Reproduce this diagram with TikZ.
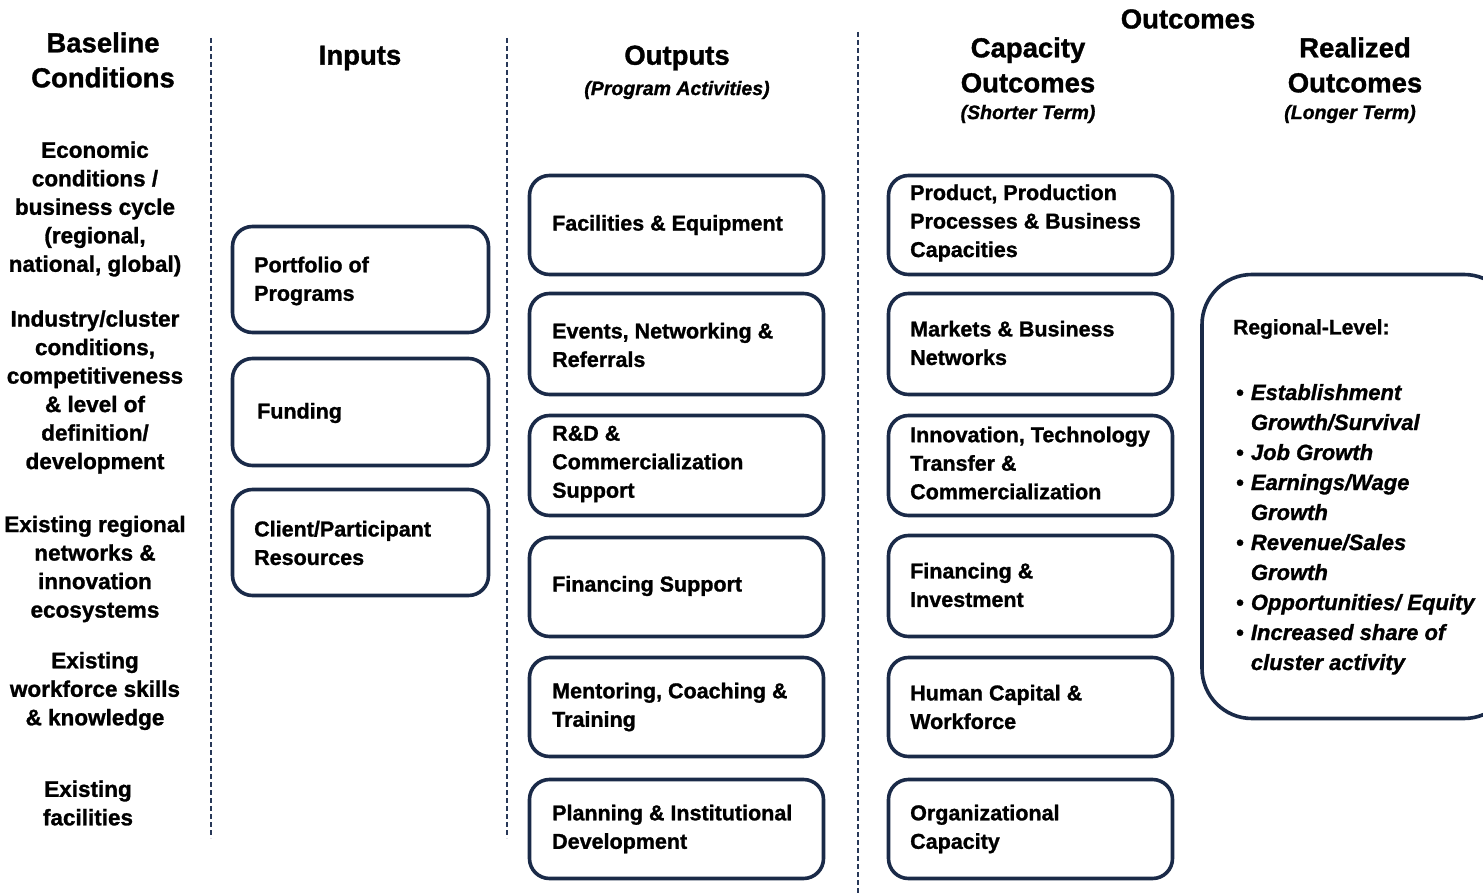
\documentclass[tikz,border=0pt]{standalone}
\usepackage{fontspec}
\setmainfont{Liberation Sans}[BoldFeatures={FakeBold=1.2},BoldItalicFeatures={FakeBold=1.2}]
\definecolor{navy}{RGB}{26,42,72}
\definecolor{dashnavy}{RGB}{40,56,88}
\tikzset{
  hdr/.style={font=\fontsize{27.5}{35}\selectfont\bfseries, align=center, inner sep=0},
  subhdr/.style={font=\fontsize{19.5}{24}\selectfont\bfseries\itshape, align=center, inner sep=0},
  basetxt/.style={font=\fontsize{22.5}{28.5}\selectfont\bfseries, align=center, inner sep=0},
  lmbox/.style={draw=navy, line width=3.6pt, rounded corners=20pt, inner sep=0, outer sep=0},
  btxt/.style={font=\fontsize{21.5}{28.5}\selectfont\bfseries, align=left, anchor=west, inner sep=0},
  sepline/.style={draw=dashnavy, line width=2.2pt, dash pattern=on 5pt off 3pt},
}
\begin{document}
\begin{tikzpicture}[x=1pt,y=-1pt]
\useasboundingbox (0,0) rectangle (1483,893);
\clip (0,0) rectangle (1483,893);

% separators
\coordinate (s1t) at (211,38); \coordinate (s1b) at (211,838);
\coordinate (s2t) at (507,38); \coordinate (s2b) at (507,838);
\coordinate (s3t) at (858,32); \coordinate (s3b) at (858,893);
\draw[sepline] (s1t) -- (s1b);
\draw[sepline] (s2t) -- (s2b);
\draw[sepline] (s3t) -- (s3b);

% headers
\node[hdr] (hbase) at (103,60) {Baseline\\Conditions};
\node[hdr] (hin) at (360,58) {Inputs};
\node[hdr] (hout) at (677,58) {Outputs};
\node[subhdr] (hsubout) at (677,90) {(Program Activities)};
\node[hdr] (houtc) at (1188,19) {Outcomes};
\node[hdr] (hcap) at (1028,65) {Capacity\\Outcomes};
\node[subhdr] (hsubcap) at (1028,114) {(Shorter Term)};
\node[hdr] (hreal) at (1355,65) {Realized\\Outcomes};
\node[subhdr] (hsubreal) at (1350,114) {(Longer Term)};

% baseline conditions
\node[basetxt] (b1) at (95,209) {Economic\\conditions /\\business cycle\\(regional,\\national, global)};
\node[basetxt] (b2) at (95,392) {Industry/cluster\\conditions,\\competitiveness\\\& level of\\definition/\\development};
\node[basetxt] (b3) at (95,569) {Existing regional\\networks \&\\innovation\\ecosystems};
\node[basetxt] (b4) at (95,691) {Existing\\workforce skills\\\& knowledge};
\node[basetxt] (b5) at (88,803) {Existing\\facilities};

% inputs
\node[lmbox, minimum width=256pt, minimum height=106pt] (i1) at (360.5,279.5) {};
\node[lmbox, minimum width=256pt, minimum height=107pt] (i2) at (360.5,412) {};
\node[lmbox, minimum width=256pt, minimum height=106pt] (i3) at (360.5,542.5) {};
\node[btxt] (i1t) at (254,281) {Portfolio of\\Programs};
\node[btxt] (i2t) at (257,413) {Funding};
\node[btxt] (i3t) at (254,543) {Client/Participant\\Resources};

% outputs
\node[lmbox, minimum width=294pt, minimum height=99pt] (o1) at (676.5,225) {};
\node[lmbox, minimum width=294pt, minimum height=101pt] (o2) at (676.5,344) {};
\node[lmbox, minimum width=294pt, minimum height=100pt] (o3) at (676.5,465.5) {};
\node[lmbox, minimum width=294pt, minimum height=99pt] (o4) at (676.5,587) {};
\node[lmbox, minimum width=294pt, minimum height=99pt] (o5) at (676.5,707) {};
\node[lmbox, minimum width=294pt, minimum height=99pt] (o6) at (676.5,829) {};
\node[btxt] (o1t) at (552,225) {Facilities \& Equipment};
\node[btxt] (o2t) at (552,345) {Events, Networking \&\\Referrals};
\node[btxt] (o3t) at (552,464) {R\&D \&\\Commercialization\\Support};
\node[btxt] (o4t) at (552,586) {Financing Support};
\node[btxt] (o5t) at (552,707) {Mentoring, Coaching \&\\Training};
\node[btxt] (o6t) at (552,829) {Planning \& Institutional\\Development};

% capacity outcomes
\node[lmbox, minimum width=284pt, minimum height=99pt] (c1) at (1030.5,225) {};
\node[lmbox, minimum width=284pt, minimum height=101pt] (c2) at (1030.5,344) {};
\node[lmbox, minimum width=284pt, minimum height=100pt] (c3) at (1030.5,465.5) {};
\node[lmbox, minimum width=284pt, minimum height=101pt] (c4) at (1030.5,586) {};
\node[lmbox, minimum width=284pt, minimum height=99pt] (c5) at (1030.5,707) {};
\node[lmbox, minimum width=284pt, minimum height=99pt] (c6) at (1030.5,829) {};
\node[btxt] (c1t) at (910,223) {Product, Production\\Processes \& Business\\Capacities};
\node[btxt] (c2t) at (910,343) {Markets \& Business\\Networks};
\node[btxt] (c3t) at (910,463) {Innovation, Technology\\Transfer \&\\Commercialization};
\node[btxt] (c4t) at (910,585) {Financing \&\\Investment};
\node[btxt] (c5t) at (910,707) {Human Capital \&\\Workforce};
\node[btxt] (c6t) at (910,829) {Organizational\\Capacity};

% realized outcomes
\node[lmbox, rounded corners=50pt, minimum width=312pt, minimum height=444pt] (r1) at (1358,496.5) {};
\node[btxt, font=\fontsize{21}{28}\selectfont\bfseries] (r1h) at (1233,329) {Regional-Level:};
\node[btxt, font=\fontsize{22}{30}\selectfont\bfseries] (r1l) at (1236,529) {%
\begin{tabular}{@{}l@{\hspace{7pt}}l@{}}
\textbullet & \textit{Establishment}\\
 & \textit{Growth/Survival}\\
\textbullet & \textit{Job Growth}\\
\textbullet & \textit{Earnings/Wage}\\
 & \textit{Growth}\\
\textbullet & \textit{Revenue/Sales}\\
 & \textit{Growth}\\
\textbullet & \textit{Opportunities/ Equity}\\
\textbullet & \textit{Increased share of}\\
 & \textit{cluster activity}
\end{tabular}};
\end{tikzpicture}
\end{document}
